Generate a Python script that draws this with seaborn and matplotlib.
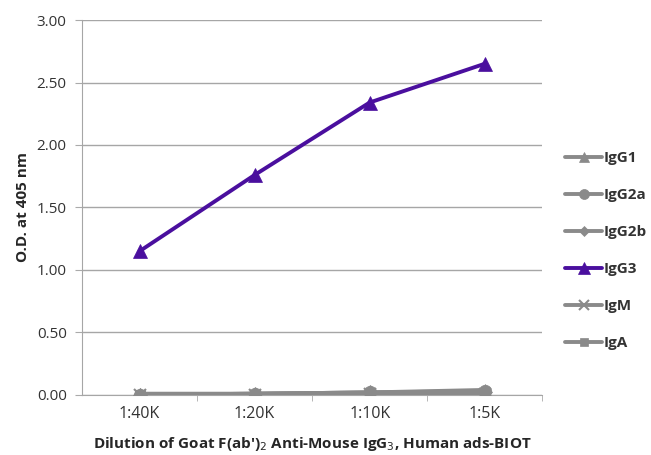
import numpy as np
import pandas as pd
import matplotlib
matplotlib.use('Agg')
import matplotlib.pyplot as plt
import seaborn as sns

# ── Data ───────────────────────────────────────────────────────────────────
dilutions = ['1:40K', '1:20K', '1:10K', '1:5K']
igg1  = [0.01, 0.01, 0.02, 0.04]
igg2a = [0.00, 0.01, 0.02, 0.03]
igg2b = [0.00, 0.01, 0.02, 0.02]
igg3  = [1.15, 1.76, 2.34, 2.65]
igm   = [0.00, 0.00, 0.01, 0.01]
iga   = [0.00, 0.00, 0.01, 0.01]
y_ticks = [0.0, 0.5, 1.0, 1.5, 2.0, 2.5, 3.0]

series = {'IgG1': igg1, 'IgG2a': igg2a, 'IgG2b': igg2b,
          'IgG3': igg3, 'IgM': igm, 'IgA': iga}

df = pd.DataFrame([
    {'dilution': d, 'pos': i, 'isotype': name, 'od': v}
    for name, vals in series.items()
    for i, (d, v) in enumerate(zip(dilutions, vals))
])

GREY   = '#8a8a8a'
PURPLE = '#4a0f9e'
palette = {'IgG1': GREY, 'IgG2a': GREY, 'IgG2b': GREY,
           'IgG3': PURPLE, 'IgM': GREY, 'IgA': GREY}
markers = {'IgG1': '^', 'IgG2a': 'o', 'IgG2b': 'D',
           'IgG3': '^', 'IgM': 'x', 'IgA': 's'}
sizes   = {'IgG1': 9, 'IgG2a': 9, 'IgG2b': 7, 'IgG3': 10, 'IgM': 9, 'IgA': 7}

sns.set_style('white')
plt.rcParams['font.family'] = ['Open Sans', 'DejaVu Sans']

fig = plt.figure(figsize=(6.51, 4.55), dpi=100)
ax = fig.add_axes([0.126, 0.132, 0.707, 0.824])

# purple first, grey near-zero lines drawn over it
order = ['IgG3', 'IgA', 'IgM', 'IgG2b', 'IgG2a', 'IgG1']
for name in order:
    sub = df[df['isotype'] == name]
    sns.lineplot(data=sub, x='pos', y='od', ax=ax, color=palette[name],
                 marker=markers[name], markersize=sizes[name],
                 markeredgecolor=palette[name], markeredgewidth=1.5 if name == 'IgM' else 0.5,
                 linewidth=2.8, label=name, zorder=3, legend=False)

ax.set_xlim(-0.5, 3.5)
ax.set_ylim(0, 3.0)
ax.set_yticks(y_ticks)
ax.set_yticklabels([f'{t:.2f}' for t in y_ticks], fontsize=11, color='#333333')
ax.set_xticks(range(len(dilutions)))
ax.set_xticklabels(dilutions, fontsize=11.5, color='#333333')
ax.set_xticks([0.5, 1.5, 2.5, 3.5], minor=True)
ax.tick_params(axis='x', which='major', length=0, pad=8)
ax.tick_params(axis='x', which='minor', length=4, color='#aaaaaa', direction='out', bottom=True)
ax.tick_params(axis='y', length=5, color='#aaaaaa', direction='out', left=True, pad=6)

ax.grid(axis='y', color='#a6a6a6', linewidth=1)
ax.set_axisbelow(True)
for side in ['top', 'right']:
    ax.spines[side].set_visible(False)
ax.spines['left'].set_color('#a6a6a6')
ax.spines['bottom'].set_color('#a6a6a6')

ax.set_ylabel('O.D. at 405 nm', fontsize=11, fontweight='bold', labelpad=5)
ax.set_xlabel("Dilution of Goat F(ab')$_2$ Anti-Mouse IgG$_3$, Human ads-BIOT",
              fontsize=11, fontweight='bold', labelpad=9)

# legend in original series order
handles, labels = ax.get_legend_handles_labels()
lookup = dict(zip(labels, handles))
names = list(series.keys())
leg = ax.legend([lookup[n] for n in names], names, loc='center left',
                bbox_to_anchor=(1.02, 0.385), frameon=False,
                prop={'weight': 'bold', 'size': 11}, labelspacing=1.5,
                handlelength=2.4, handletextpad=0.1, markerscale=0.8)
for t in leg.get_texts():
    t.set_color('#333333')

plt.savefig('out.png', dpi=100)
plt.close(fig)
